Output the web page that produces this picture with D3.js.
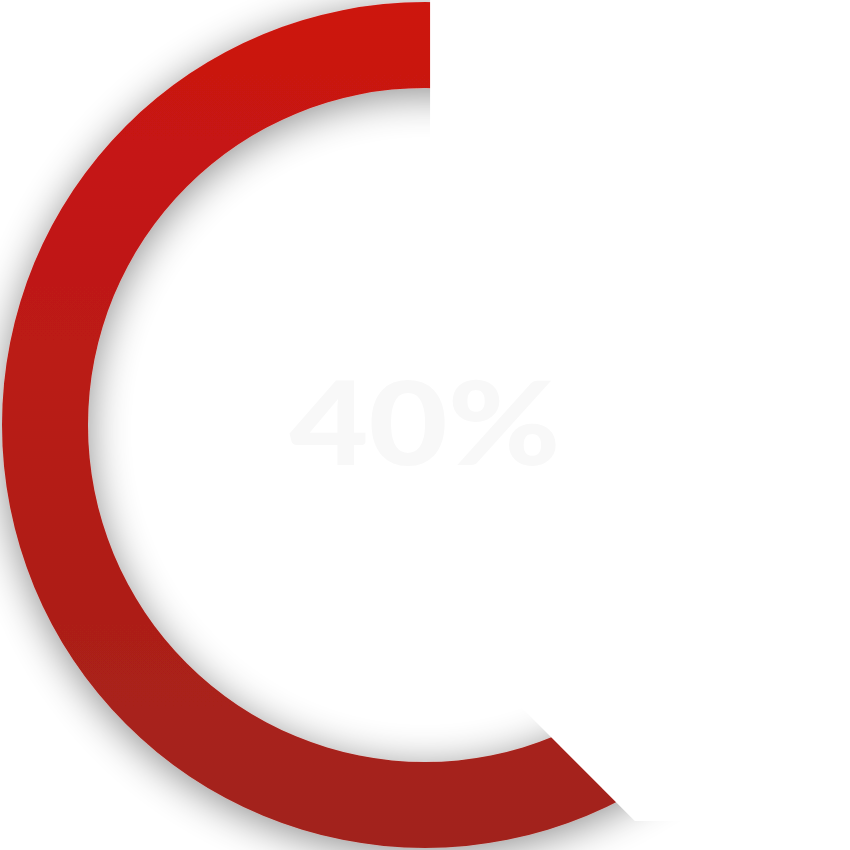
<!DOCTYPE html>
<html>
<head>
<meta charset="utf-8">
<script src="https://cdn.jsdelivr.net/npm/d3@7"></script>
<style>
  html, body { margin: 0; padding: 0; background: #ffffff; overflow: hidden; }
  svg { display: block; }
</style>
</head>
<body>
<script>
// ---- data ----
const valueLabels = ["40%"];
const values = [40];
const ringExtent = [0, 360];            // full ring drawn in degrees
const gradientColors = ["#cd1410", "#a1231c"];
const maskCorners = [                   // mask outline relative to the ring (in units of outer radius)
  [0.012, -1.05],
  [1.05, -1.05],
  [1.05, 0.936],
  [0.496, 0.936],
  [0.012, 0.452]
];

const W = 850, H = 850;
const cx = 425, cy = 425;
const outerR = 423, innerR = 337;

const svg = d3.select("body").append("svg").attr("width", W).attr("height", H);
const defs = svg.append("defs");

const grad = defs.append("linearGradient")
  .attr("id", "ringGrad").attr("gradientUnits", "userSpaceOnUse")
  .attr("x1", 0).attr("y1", -outerR).attr("x2", 0).attr("y2", outerR);
grad.selectAll("stop").data(gradientColors).join("stop")
  .attr("offset", (d, i) => i / (gradientColors.length - 1))
  .attr("stop-color", d => d);

const f = defs.append("filter").attr("id", "shadow")
  .attr("x", "-20%").attr("y", "-20%").attr("width", "140%").attr("height", "140%");
f.append("feGaussianBlur").attr("in", "SourceAlpha").attr("stdDeviation", 20).attr("result", "b");
f.append("feOffset").attr("in", "b").attr("dx", 0).attr("dy", 6).attr("result", "o");
f.append("feComponentTransfer").attr("in", "o").attr("result", "s")
  .append("feFuncA").attr("type", "linear").attr("slope", 0.45);
f.append("feGaussianBlur").attr("in", "SourceGraphic").attr("stdDeviation", 0.7).attr("result", "g");
const m = f.append("feMerge");
m.append("feMergeNode").attr("in", "s");
m.append("feMergeNode").attr("in", "g");

const angle = d3.scaleLinear().domain([0, 360]).range([0, 2 * Math.PI]);
const arc = d3.arc().innerRadius(innerR).outerRadius(outerR);

const g = svg.append("g").attr("transform", `translate(${cx},${cy})`);

// ring
g.append("path")
  .datum({ startAngle: angle(ringExtent[0]), endAngle: angle(ringExtent[1]) })
  .attr("d", arc)
  .attr("fill", "url(#ringGrad)")
  .attr("filter", "url(#shadow)");

// white cover
const rs = d3.scaleLinear().domain([0, 1]).range([0, outerR]);
const line = d3.line().x(d => rs(d[0])).y(d => rs(d[1]));
g.append("path")
  .attr("d", line(maskCorners) + "Z")
  .attr("fill", "#ffffff");

// central value label
g.selectAll("text.val").data(valueLabels).join("text")
  .attr("class", "val")
  .attr("x", 0).attr("y", 40)
  .attr("text-anchor", "middle")
  .attr("font-family", "Lato, 'Open Sans', sans-serif")
  .attr("font-weight", 900)
  .attr("font-size", 117)
  .attr("textLength", 271)
  .attr("lengthAdjust", "spacingAndGlyphs")
  .attr("fill", "#f8f8f8")
  .text(d => d);
</script>
</body>
</html>
